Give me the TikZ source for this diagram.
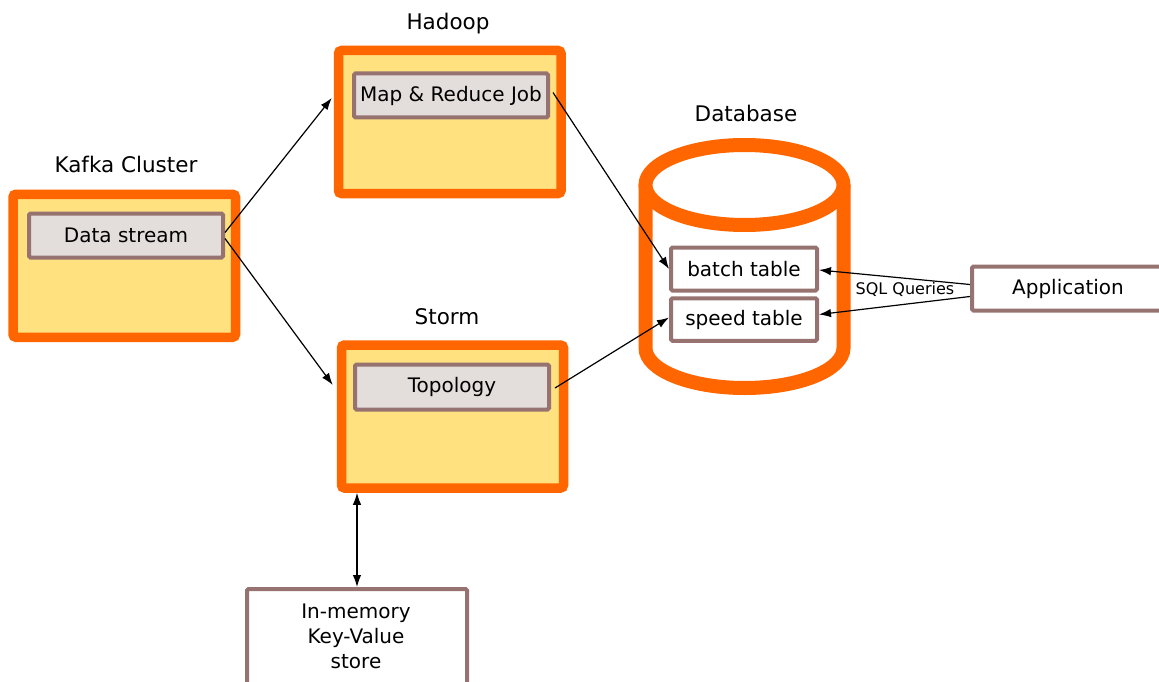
\documentclass[tikz,border=0pt]{standalone}
\usepackage{fontspec}
\setmainfont{DejaVu Sans}
\usetikzlibrary{arrows.meta,calc}
\definecolor{orng}{RGB}{255,102,0}
\definecolor{ylw}{RGB}{255,225,128}
\definecolor{brn}{RGB}{150,115,113}
\definecolor{gry}{RGB}{227,222,219}
\tikzset{
  cluster/.style={draw=orng,fill=ylw,line width=9.5pt,rounded corners=3pt,minimum width=#1,minimum height=143pt,inner sep=0pt},
  job/.style={draw=brn,fill=gry,line width=4pt,rounded corners=1.5pt,minimum width=194pt,minimum height=44pt,inner sep=0pt,font=\fontsize{20}{24}\selectfont},
  tbl/.style={draw=brn,fill=white,line width=4pt,rounded corners=1.5pt,minimum width=146pt,minimum height=42.5pt,inner sep=0pt,font=\fontsize{20}{24}\selectfont},
  title/.style={font=\fontsize{21.5}{25}\selectfont,inner sep=0pt},
  conn/.style={line width=1.2pt,-{Latex[length=12pt,width=8.5pt]}},
}
\begin{document}
\begin{tikzpicture}[x=1pt,y=-1pt]
\useasboundingbox (0,0) rectangle (1159,682);
% titles
\node[title] (tk) at (126,164) {Kafka Cluster};
\node[title] (th) at (448,24) {Hadoop};
\node[title] (ts) at (447,317) {Storm};
\node[title] (tdb) at (746,113) {Database};
% clusters
\node[cluster=222.5pt] (kafka) at (124.25,265.75) {};
\node[cluster=222.5pt] (hadoop) at (449.75,122) {};
\node[cluster=222pt] (storm) at (452.5,416.5) {};
\node[job] (ds) at (126,235.5) {Data stream};
\node[job] (map) at (451,95.5) {Map \& Reduce Job};
\node[job,minimum height=45pt] (topo) at (452,387) {Topology};
% database cylinder
\fill[white] (645.5,185) -- (645.5,348) arc[start angle=180,end angle=360,x radius=99pt,y radius=40pt] -- (843.5,185) -- cycle;
\draw[orng,line width=14pt] (645.5,185) -- (645.5,348) arc[start angle=180,end angle=360,x radius=99pt,y radius=40pt] -- (843.5,185);
\draw[orng,line width=14pt,fill=white] (744.5,185) ellipse[x radius=99pt,y radius=40pt];
\node[tbl,minimum height=43pt] (batch) at (744,269) {batch table};
\node[tbl] (speed) at (744,319.5) {speed table};
% application
\node[draw=brn,fill=white,line width=4pt,rounded corners=1.5pt,minimum width=196pt,minimum height=44pt,inner sep=0pt,font=\fontsize{20}{24}\selectfont] (app) at (1070,288.5) {\hspace*{-4pt}Application};
% in-memory store
\node[draw=brn,fill=white,line width=4pt,rounded corners=1.5pt,minimum width=220pt,minimum height=131pt,inner sep=0pt] (memb) at (357,654.5) {};
\node[align=center,inner sep=0pt,font=\fontsize{20}{25}\selectfont] (mem) at (356,636) {In-memory\\Key-Value\\store};
% connectors
\draw[conn] ([yshift=3pt]ds.east) -- ([yshift=24pt,xshift=-2pt]hadoop.west);
\draw[conn] ([yshift=-3pt]ds.east) -- ([yshift=31.5pt,xshift=-4pt]storm.west);
\draw[conn] ([xshift=3pt,yshift=3pt]map.east) -- (batch.west);
\draw[conn] ([xshift=4pt,yshift=-1pt]topo.east) -- ([yshift=2pt]speed.west);
\draw[conn] ([yshift=4pt]app.west) -- ([yshift=-1pt]batch.east);
\draw[conn] ([yshift=-8pt]app.west) -- ([yshift=5pt]speed.east);
\draw[line width=1.2pt,{Latex[length=12pt,width=8.5pt]}-{Latex[length=12pt,width=8.5pt]}] (storm.south -| memb.north) -- (memb.north);
\node[font=\fontsize{16}{19}\selectfont,inner sep=0pt] (sql) at (905,289) {SQL Queries};
\end{tikzpicture}
\end{document}
